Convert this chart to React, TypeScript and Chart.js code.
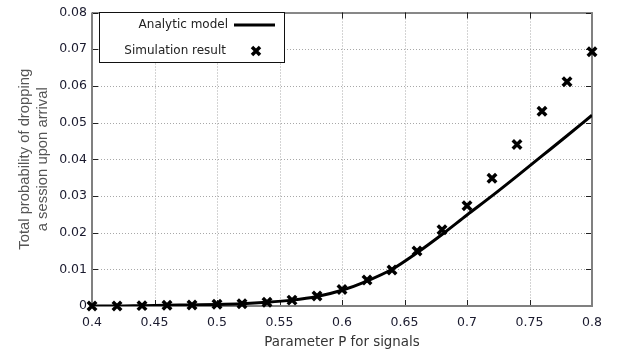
import React, { useEffect, useRef } from 'react';
import { Chart, registerables } from 'chart.js';
Chart.register(...registerables);

const xValues = [0.40, 0.42, 0.44, 0.46, 0.48, 0.50, 0.52, 0.54, 0.56, 0.58, 0.60, 0.62, 0.64, 0.66, 0.68, 0.70, 0.72, 0.74, 0.76, 0.78, 0.80];
const analyticValues = [0.0000, 0.0000, 0.0001, 0.0002, 0.0003, 0.0004, 0.0006, 0.0010, 0.0016, 0.0026, 0.0043, 0.0068, 0.0100, 0.0145, 0.0195, 0.0248, 0.0300, 0.0354, 0.0409, 0.0464, 0.0520];
const simulationValues = [0.0000, 0.0000, 0.0001, 0.0002, 0.0003, 0.0005, 0.0006, 0.0010, 0.0016, 0.0027, 0.0045, 0.0071, 0.0098, 0.0150, 0.0208, 0.0273, 0.0348, 0.0440, 0.0531, 0.0611, 0.0693];
const xTicks = [0.4, 0.45, 0.5, 0.55, 0.6, 0.65, 0.7, 0.75, 0.8];
const yTicks = [0, 0.01, 0.02, 0.03, 0.04, 0.05, 0.06, 0.07, 0.08];
const seriesNames = ['Analytic model', 'Simulation result'];
const xTitle = 'Parameter P for signals';
const yTitleLines = ['Total probability of dropping', 'a session upon arrival'];

const fmt = (v: number) => String(parseFloat(Number(v).toFixed(2)));

const framePlugin = {
  id: 'frame',
  beforeDatasetsDraw(chart: any) {
    const { ctx, chartArea: a, scales } = chart;
    const xs = scales.x, ys = scales.y;
    ctx.save();
    // dotted grid
    ctx.strokeStyle = '#a8a8a8';
    ctx.lineWidth = 1;
    ctx.setLineDash([1, 2]);
    xTicks.slice(1, -1).forEach((v) => {
      const px = Math.round(xs.getPixelForValue(v)) + 0.5;
      ctx.beginPath(); ctx.moveTo(px, a.top); ctx.lineTo(px, a.bottom); ctx.stroke();
    });
    yTicks.slice(1, -1).forEach((v) => {
      const py = Math.round(ys.getPixelForValue(v)) + 0.5;
      ctx.beginPath(); ctx.moveTo(a.left, py); ctx.lineTo(a.right, py); ctx.stroke();
    });
    ctx.setLineDash([]);
    // inward tick marks
    ctx.strokeStyle = '#222';
    ctx.lineWidth = 1;
    const tl = 6;
    xTicks.forEach((v) => {
      const px = Math.round(xs.getPixelForValue(v)) + 0.5;
      ctx.beginPath(); ctx.moveTo(px, a.bottom); ctx.lineTo(px, a.bottom - tl); ctx.stroke();
      ctx.beginPath(); ctx.moveTo(px, a.top); ctx.lineTo(px, a.top + tl); ctx.stroke();
    });
    yTicks.forEach((v) => {
      const py = Math.round(ys.getPixelForValue(v)) + 0.5;
      ctx.beginPath(); ctx.moveTo(a.left, py); ctx.lineTo(a.left + tl, py); ctx.stroke();
      ctx.beginPath(); ctx.moveTo(a.right, py); ctx.lineTo(a.right - tl, py); ctx.stroke();
    });
    // frame
    ctx.strokeStyle = '#111';
    ctx.lineWidth = 1;
    ctx.beginPath(); ctx.moveTo(a.left, a.top + 0.5); ctx.lineTo(a.right, a.top + 0.5); ctx.stroke();
    ctx.strokeStyle = '#808080';
    ctx.lineWidth = 2;
    ctx.beginPath();
    ctx.moveTo(a.left, a.top); ctx.lineTo(a.left, a.bottom); ctx.lineTo(a.right, a.bottom); ctx.lineTo(a.right, a.top);
    ctx.stroke();
    ctx.restore();
  },
  afterDraw(chart: any) {
    const { ctx, chartArea: a } = chart;
    ctx.save();
    // legend box
    const bx = 99, by = 12, bw = 185, bh = 50;
    ctx.fillStyle = '#fff';
    ctx.fillRect(bx, by, bw, bh);
    ctx.strokeStyle = '#111';
    ctx.lineWidth = 1;
    ctx.strokeRect(bx + 0.5, by + 0.5, bw, bh);
    ctx.font = '12px "DejaVu Sans"';
    ctx.fillStyle = '#222';
    ctx.textAlign = 'right';
    ctx.textBaseline = 'middle';
    ctx.fillText(seriesNames[0], 228, 25);
    ctx.fillText(seriesNames[1], 226, 51);
    ctx.strokeStyle = '#000';
    ctx.lineWidth = 3;
    ctx.beginPath(); ctx.moveTo(234, 25); ctx.lineTo(275, 25); ctx.stroke();
    ctx.lineWidth = 3.5;
    const mx = 256, my = 51, r = 4;
    ctx.beginPath(); ctx.moveTo(mx - r, my - r); ctx.lineTo(mx + r, my + r);
    ctx.moveTo(mx - r, my + r); ctx.lineTo(mx + r, my - r); ctx.stroke();
    // x title
    ctx.textAlign = 'center';
    ctx.fillStyle = '#333';
    ctx.font = '13.4px "DejaVu Sans"';
    ctx.fillText(xTitle, (a.left + a.right) / 2, 343);
    // y title
    ctx.translate(0, (a.top + a.bottom) / 2);
    ctx.rotate(-Math.PI / 2);
    ctx.fillStyle = '#555';
    ctx.font = '14.8px "Liberation Sans"';
    ctx.fillText(yTitleLines[0], 0, 25);
    ctx.fillText(yTitleLines[1], 0, 43);
    ctx.restore();
  },
};

export default function App() {
  const canvasRef = useRef<HTMLCanvasElement | null>(null);
  useEffect(() => {
    document.body.style.margin = '0';
    const canvas = canvasRef.current;
    if (!canvas) return;
    const chart = new Chart(canvas, {
      type: 'line',
      data: {
        datasets: [
          {
            label: seriesNames[0],
            data: xValues.map((x, i) => ({ x, y: analyticValues[i] })),
            borderColor: '#000',
            backgroundColor: '#000',
            borderWidth: 3,
            pointRadius: 0,
            cubicInterpolationMode: 'monotone',
            fill: false,
            order: 2,
          },
          {
            label: seriesNames[1],
            data: xValues.map((x, i) => ({ x, y: simulationValues[i] })),
            showLine: false,
            borderColor: '#000',
            backgroundColor: '#000',
            pointStyle: 'crossRot',
            pointRadius: 6,
            pointBorderWidth: 3.5,
            clip: false as any,
            order: 1,
          },
        ],
      },
      options: {
        animation: false,
        responsive: false,
        maintainAspectRatio: false,
        events: [],
        layout: { padding: { top: 7, right: 33, left: 0, bottom: 0 } },
        plugins: { legend: { display: false }, tooltip: { enabled: false } },
        scales: {
          x: {
            type: 'linear',
            min: 0.4,
            max: 0.8,
            afterBuildTicks: (s: any) => { s.ticks = xTicks.map((v) => ({ value: v })); },
            afterFit: (s: any) => { s.height = 52; },
            grid: { display: false, drawTicks: false },
            border: { display: false },
            ticks: {
              callback: (v: any) => fmt(v),
              font: { family: '"DejaVu Sans"', size: 12.5 },
              color: '#1a1a2e',
              padding: 9,
              maxRotation: 0,
              autoSkip: false,
            },
          },
          y: {
            type: 'linear',
            min: 0,
            max: 0.08,
            afterBuildTicks: (s: any) => { s.ticks = yTicks.map((v) => ({ value: v })); },
            afterFit: (s: any) => { s.width = 92; },
            grid: { display: false, drawTicks: false },
            border: { display: false },
            ticks: {
              callback: (v: any) => fmt(v),
              font: { family: '"DejaVu Sans"', size: 12.5 },
              color: '#1a1a2e',
              padding: 5,
              autoSkip: false,
            },
          },
        },
      },
      plugins: [framePlugin],
    } as any);
    return () => chart.destroy();
  }, []);
  return (
    <div style={{ width: 625, height: 358 }}>
      <canvas ref={canvasRef} width={625} height={358} style={{ display: 'block' }} />
    </div>
  );
}
